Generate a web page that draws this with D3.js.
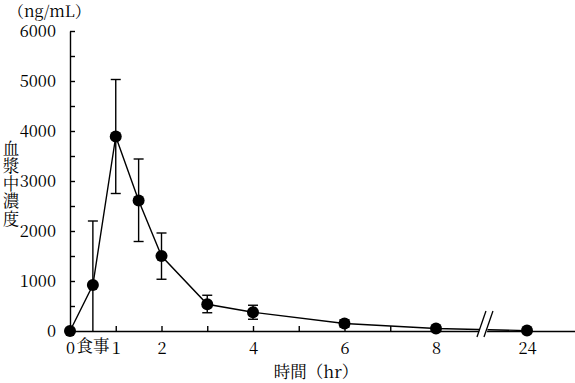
<!DOCTYPE html>
<html><head><meta charset="utf-8">
<script src="https://cdn.jsdelivr.net/npm/d3@7"></script>
<style>
html,body{margin:0;padding:0;background:#fff;}
svg{display:block;}
.sf{font-family:"Noto Serif CJK JP","Noto Sans CJK JP",serif;fill:#000;}
</style></head>
<body>
<svg id="c" width="575" height="383"></svg>
<script>
// Data
const times = [0, 0.5, 1, 1.5, 2, 3, 4, 6, 8, 24];
const means = [0, 920, 3890, 2610, 1500, 535, 375, 150, 50, 8];
const upper = [0, 2200, 5030, 3440, 1960, 715, 515, 220, 70, 8];
const lower = [0, 0, 2750, 1790, 1035, 365, 235, 80, 30, 8];
const yTicks = [0, 500, 1000, 1500, 2000, 2500, 3000, 3500, 4000, 4500, 5000, 5500, 6000];
const yLabels = [0, 1000, 2000, 3000, 4000, 5000, 6000];
const xTickMarks = [1, 2, 3, 4, 5, 6, 7, 8];
const xLabels = [0, 1, 2, 4, 6, 8, 24];
const mealTime = 0.5;
const mealLabel = "食事";
const yTitle = "血漿中濃度";
const yUnit = "（ng/mL）";
const xTitle = "時間（hr）";

const svg = d3.select("#c");
const x = d3.scaleLinear().domain([0, 8, 24, 30]).range([70, 436, 527, 575]);
const y = d3.scaleLinear().domain([0, 6000]).range([331, 31]);

// Y axis
const ya = svg.append("g").attr("transform", `translate(${x(0)},0)`)
  .call(d3.axisLeft(y).tickValues(yTicks).tickSizeInner(-5).tickSizeOuter(0).tickPadding(14)
    .tickFormat(d => yLabels.includes(d) ? d : ""));
ya.attr("font-family", null).attr("font-size", null).attr("class", "sf");
ya.selectAll("text").attr("font-size", 16.5).attr("fill", "#000");
ya.selectAll("line,path").attr("stroke", "#000").attr("stroke-width", 1.4);

// X axis marks
const xa = svg.append("g").attr("transform", `translate(0,${y(0)})`)
  .call(d3.axisBottom(x).tickValues(xTickMarks).tickSizeInner(-5).tickSizeOuter(0).tickFormat(""));
xa.selectAll("line,path").attr("stroke", "#000").attr("stroke-width", 1.4);
// X labels
const xl = svg.append("g").attr("transform", `translate(0,${y(0)})`)
  .call(d3.axisBottom(x).tickValues(xLabels).tickSize(0).tickPadding(11));
xl.attr("font-family", null).attr("font-size", null).attr("class", "sf");
xl.select(".domain").remove();
xl.selectAll("text").attr("font-size", 16.5).attr("fill", "#000");

svg.append("text").attr("class", "sf").attr("x", x(mealTime)).attr("y", y(0) + 21)
  .attr("text-anchor", "middle").attr("font-size", 16.5).text(mealLabel);

// Line
const line = d3.line().x((d, i) => x(times[i])).y(d => y(d));
svg.append("path").datum(means).attr("d", line).attr("fill", "none").attr("stroke", "#000").attr("stroke-width", 1.4);

// Error bars
const eb = svg.append("g").attr("stroke", "#000").attr("stroke-width", 1.4);
times.forEach((t, i) => {
  if (upper[i] === lower[i]) return;
  eb.append("line").attr("x1", x(t)).attr("x2", x(t)).attr("y1", y(upper[i])).attr("y2", y(lower[i]));
  eb.append("line").attr("x1", x(t) - 5).attr("x2", x(t) + 5).attr("y1", y(upper[i])).attr("y2", y(upper[i]));
  if (lower[i] > 0)
    eb.append("line").attr("x1", x(t) - 5).attr("x2", x(t) + 5).attr("y1", y(lower[i])).attr("y2", y(lower[i]));
});

// Points
svg.append("g").selectAll("circle").data(means).join("circle")
  .attr("cx", (d, i) => x(times[i])).attr("cy", d => y(d)).attr("r", 6).attr("fill", "#000");

// Axis break
const bx = x(8) + (x(24) - x(8)) * 0.56, by = y(0);
svg.append("path").attr("d", `M${bx-9},${by+5} L${bx-3},${by-20} L${bx+5},${by-20} L${bx-1},${by+5} Z`)
  .attr("fill", "#fff");
svg.append("g").attr("stroke", "#000").attr("stroke-width", 1.3).selectAll("line")
  .data([-6, 1]).join("line")
  .attr("x1", d => bx + d - 4).attr("y1", by + 6).attr("x2", d => bx + d + 5).attr("y2", by - 20);

// Titles
svg.append("text").attr("class", "sf").attr("x", 8).attr("y", 17).attr("font-size", 16)
  .text(yUnit);
svg.append("text").attr("class", "sf").attr("x", 11).attr("y", 140)
  .style("writing-mode", "vertical-rl").style("letter-spacing", "1px")
  .attr("font-size", 16.5).text(yTitle);
svg.append("text").attr("class", "sf").attr("x", 316).attr("y", 378).attr("text-anchor", "middle")
  .attr("font-size", 16.5).text(xTitle);
</script>
</body></html>
